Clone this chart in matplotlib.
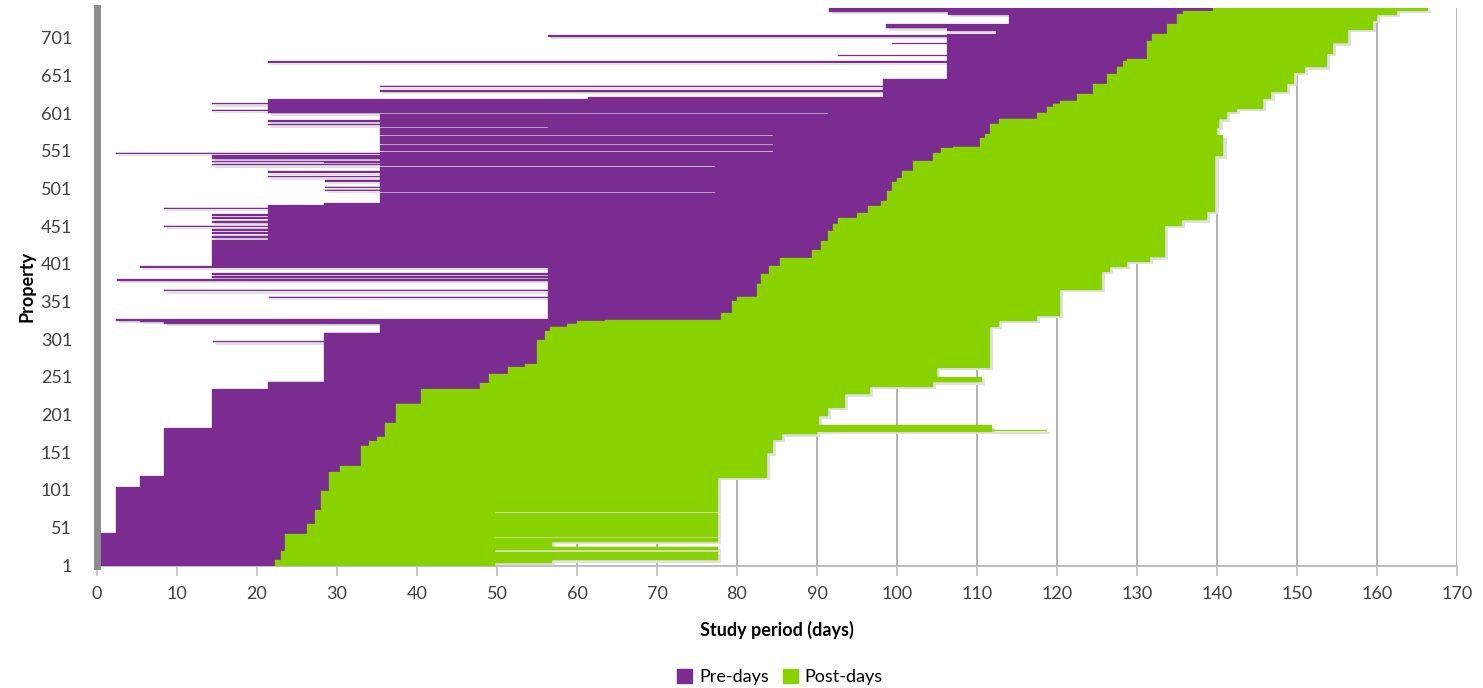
import numpy as np
import matplotlib
matplotlib.use('Agg')
import matplotlib.pyplot as plt
from matplotlib.patches import Patch

plt.rcParams['font.family'] = ['Lato', 'DejaVu Sans']

n_props = 740

# left edge of the purple body (first property of each step, day)
start_rows = [1, 44, 105, 120, 183, 235, 245, 310, 322, 328, 399, 433, 479, 482, 601, 620, 623, 646, 706, 711, 714, 719, 732, 736]
start_days = [0.4, 2.4, 5.4, 8.4, 14.4, 21.4, 28.4, 35.4, 8.4, 56.4, 14.4, 21.4, 28.4, 35.4, 21.4, 61.4, 98.3, 106.2, 112.4, 106.2, 98.6, 114.0, 106.4, 91.5]

# thin bars that stick out (first prop, last prop, start day)
stripe_from = [297, 324, 326, 356, 365, 379, 383, 387, 396, 436, 441, 445, 450, 456, 461, 465, 474,
               496, 498, 502, 510, 516, 522, 530, 532, 535, 536, 540, 547, 550, 559, 571, 582,
               585, 590, 600, 604, 613, 630, 636, 668, 677, 693, 703]
stripe_to = [298, 325, 327, 357, 366, 380, 384, 388, 397, 437, 442, 446, 451, 457, 462, 466, 475,
             496, 499, 503, 511, 517, 523, 530, 533, 535, 537, 545, 548, 550, 559, 571, 582,
             586, 591, 600, 605, 614, 631, 637, 669, 677, 693, 704]
stripe_start = [14.5, 5.4, 2.4, 21.5, 8.4, 2.5, 14.4, 14.4, 5.4, 14.4, 14.4, 14.4, 8.4, 14.4, 14.4, 14.4, 8.4,
                77.3, 28.5, 28.5, 28.5, 21.4, 21.4, 77.3, 14.4, 28.4, 14.4, 14.4, 2.4, 84.5, 84.5, 84.5, 56.4,
                21.4, 21.4, 91.4, 14.4, 14.4, 35.4, 35.4, 21.4, 92.6, 99.4, 56.4]

# purple -> green change (first prop of each step, day)
switch_rows = [1, 8, 20, 43, 56, 75, 100, 125, 133, 160, 166, 172, 190, 216, 235, 243, 255, 264, 268,
               300, 312, 318, 322, 325, 327, 336, 352, 358, 375, 388, 398, 409, 420, 432, 445, 454, 462,
               469, 478, 485, 498, 510, 515, 525, 538, 548, 555, 557, 568, 574, 587, 594, 602, 610, 614,
               618, 627, 640, 653, 663, 670, 673, 697, 706, 719, 733, 737]
switch_days = [22.3, 23.0, 23.5, 26.2, 27.3, 28.0, 29.0, 30.4, 33.0, 34.0, 35.0, 36.0, 37.4, 40.5, 47.9, 49.0, 51.4, 53.5, 55.0,
               56.0, 56.6, 58.7, 60.0, 63.5, 78.0, 79.4, 80.0, 82.5, 83.0, 84.0, 85.4, 89.4, 90.5, 91.4, 92.0, 92.6, 95.0,
               96.4, 98.0, 98.7, 99.4, 100.0, 100.6, 102.0, 104.5, 105.5, 107.0, 110.4, 111.0, 111.6, 112.7, 117.5, 118.7, 119.5, 120.4,
               122.5, 124.5, 126.2, 127.5, 128.2, 128.7, 131.2, 131.9, 133.7, 135.0, 135.8, 139.5]

# right edge of the green bars (first prop of each step, day)
end_rows = [1, 117, 150, 168, 175, 186, 199, 210, 228, 238, 244, 251, 263, 318, 326, 332, 367, 391, 397,
            404, 410, 452, 459, 470, 544, 572, 582, 593, 603, 607, 620, 630, 640, 655, 662, 680, 694,
            712, 724, 732, 737]
end_days = [77.6, 83.7, 84.5, 85.6, 90.0, 90.2, 91.4, 93.5, 96.6, 104.5, 110.6, 105.0, 111.6, 112.7, 117.5, 120.4, 125.6, 126.6, 128.7,
            131.6, 133.5, 135.6, 138.7, 139.8, 140.8, 140.0, 140.3, 141.2, 142.5, 145.7, 146.8, 148.7, 149.6, 151.0, 153.7, 154.5, 156.4,
            159.5, 160.0, 162.5, 166.4]

# short / long green bars (first prop, last prop, end day)
endfix_from = [1, 4, 19, 26, 38, 71, 178, 179]
endfix_to = [3, 7, 20, 31, 38, 71, 186, 180]
endfix_day = [49.7, 56.9, 49.7, 56.9, 49.7, 49.7, 111.9, 118.7]

props = np.arange(1, n_props + 1)


def lookup(rows, vals):
    idx = np.searchsorted(rows, props, side='right') - 1
    return np.asarray(vals, dtype=float)[idx]


start = lookup(start_rows, start_days)
for a, b, v in zip(stripe_from, stripe_to, stripe_start):
    start[a - 1:b] = v
switch = lookup(switch_rows, switch_days)
end = lookup(end_rows, end_days)
for a, b, v in zip(endfix_from, endfix_to, endfix_day):
    end[a - 1:b] = v

pre_days = switch - start
post_days = end - switch

purple = '#7B2C91'
green = '#88D200'

fig = plt.figure(figsize=(14.83, 6.88), dpi=100)
ax = fig.add_axes([0.0654, 0.178, 0.917, 0.8105])

# hidden offset series is filled white (covers the gridlines), as in the original
ax.barh(props, start, height=1.0, color='white', linewidth=0, zorder=2)
# soft drop shadow
ax.barh(props - 3, end - start, left=start + 0.4, height=1.0, color='#E0E0E0', linewidth=0, zorder=2.5)
ax.barh(props, pre_days, left=start, height=1.0, color=purple, edgecolor=purple, linewidth=0.2, zorder=3)
ax.barh(props, post_days, left=switch, height=1.0, color=green, edgecolor=green, linewidth=0.2, zorder=3)

ax.set_xlim(0, 170)
ax.set_ylim(0.5, n_props + 0.5)
ax.set_xticks(np.arange(0, 171, 10))
ax.set_yticks(np.arange(1, 702, 50))
ax.grid(axis='x', color='#A6A6A6', linewidth=1.2, zorder=0)
ax.set_axisbelow(True)

for s in ['top', 'right']:
    ax.spines[s].set_visible(False)
ax.spines['left'].set_color('#8C8C8C')
ax.spines['left'].set_linewidth(5)
ax.spines['left'].set_zorder(5)
ax.spines['bottom'].set_color('#BFBFBF')
ax.spines['bottom'].set_linewidth(1.5)

ax.tick_params(axis='y', length=0, pad=18, labelsize=13, colors='#404040')
ax.tick_params(axis='x', length=7, width=1.2, color='#BFBFBF', pad=8, labelsize=13, labelcolor='#404040')

ax.set_xlabel('Study period (days)', fontsize=13, fontweight='bold', labelpad=13)
ax.set_ylabel('Property', fontsize=13, fontweight='bold', labelpad=4)

handles = [Patch(color=purple, label='Pre-days'), Patch(color=green, label='Post-days')]
fig.legend(handles=handles, loc='center', bbox_to_anchor=(0.526, 0.016), ncol=2, frameon=False,
           fontsize=13, handlelength=0.8, handleheight=0.8, handletextpad=0.4, columnspacing=0.8)

fig.savefig('out.png', dpi=100)
